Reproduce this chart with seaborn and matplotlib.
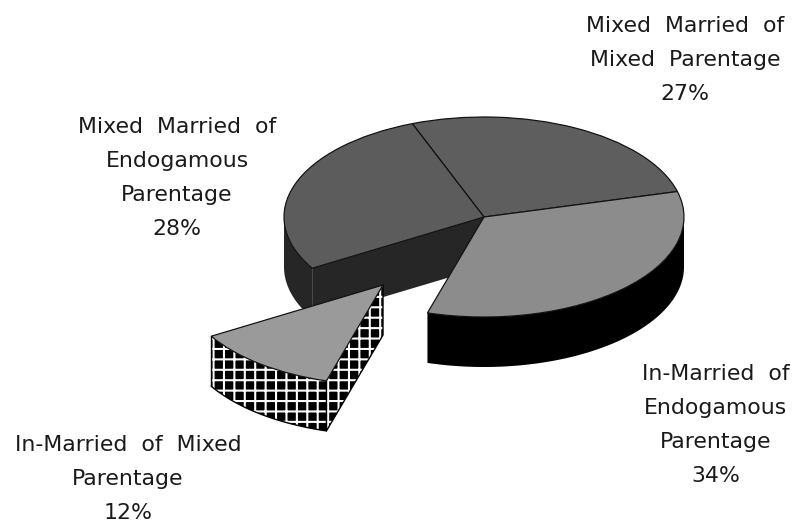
"""
Exploded 3D style pie: marriage type by parentage
"""

import numpy as np
import seaborn as sns
import matplotlib.pyplot as plt

# chart values, clockwise from the back of the pie
categories = [
    'Mixed  Married  of\nMixed  Parentage',
    'In-Married  of\nEndogamous\nParentage',
    'In-Married  of  Mixed\nParentage',
    'Mixed  Married  of\nEndogamous\nParentage',
]
shares = [27, 34, 12, 28]
labels = [f'{name}\n{share}%' for name, share in zip(categories, shares)]

# label centres in pixels
label_px = [(685, 60), (716, 425), (128, 479), (177, 178)]

top_colors = sns.color_palette(['#5e5e5e', '#8c8c8c', '#9a9a9a', '#5c5c5c'])

# picture geometry in pixels
WIDTH, HEIGHT, DPI = 799, 525, 125
CX, CY, RX, RY = 484, 217, 200, 100
DEPTH = 0.5
START = 111
EXPLODED_APEX = (383, 285)


def to_data(px, py):
    return (px - CX) / RX, (CY - py) / RY


def rim(angle_from, angle_to, center=(0, 0)):
    """Rim points between two clockwise angles measured from the top"""
    t = np.radians(np.linspace(angle_from, angle_to, 80))
    return center[0] + np.sin(t), center[1] + np.cos(t)


def side_wall(ax, xs, ys, **kwargs):
    """Fill the wall hanging below a top edge"""
    xs = np.asarray(xs)
    ys = np.asarray(ys)
    px = np.concatenate([xs, xs[::-1]])
    py = np.concatenate([ys, ys[::-1] - DEPTH])
    ax.fill(px, py, linewidth=0, **kwargs)


sns.set_theme(style='white')
plt.rcParams['font.family'] = ['DejaVu Sans']
plt.rcParams['hatch.linewidth'] = 1.2
plt.rcParams['hatch.color'] = 'white'

fig = plt.figure(figsize=(WIDTH / DPI, HEIGHT / DPI), dpi=DPI)
ax = fig.add_axes([0, 0, 1, 1])

wedges, _ = ax.pie(shares, colors=top_colors, startangle=START, counterclock=False,
                   wedgeprops={'edgecolor': '#111111', 'linewidth': 0.7})
ax.set_aspect('auto')
ax.set_xlim(to_data(0, 0)[0], to_data(WIDTH, 0)[0])
ax.set_ylim(to_data(0, HEIGHT)[1], to_data(0, 0)[1])

# clockwise slice boundaries, same scale as the pie
edges = (90 - START) + np.cumsum([0] + shares) * 360 / sum(shares)

for wedge in wedges:
    wedge.set_zorder(3)

# walls of the slices that stay in place
xs, ys = rim(max(edges[1], 90), edges[2])
side_wall(ax, xs, ys, facecolor='#000000', zorder=2)

xs, ys = rim(edges[3], 270)
side_wall(ax, xs, ys, facecolor='#262626', zorder=1)

cut_x, cut_y = rim(edges[3], edges[3])
side_wall(ax, [0, cut_x[0]], [0, cut_y[0]], facecolor='#262626', zorder=1)

# pulled out slice
apex = to_data(*EXPLODED_APEX)
wedges[2].set_center(apex)
wedges[2].set_zorder(6)

xs, ys = rim(edges[2], edges[3], apex)
side_wall(ax, xs, ys, facecolor='black', hatch='++', zorder=5)
ax.plot(xs, ys - DEPTH, color='black', lw=0.8, zorder=5)
ax.plot([xs[-1], xs[-1]], [ys[-1], ys[-1] - DEPTH], color='black', lw=0.8, zorder=5)

near_x, near_y = xs[0], ys[0]
side_wall(ax, [apex[0], near_x], [apex[1], near_y], facecolor='black', hatch='++', zorder=4)
ax.plot([apex[0], apex[0], near_x, near_x], [apex[1], apex[1] - DEPTH, near_y - DEPTH, near_y],
        color='black', lw=0.8, zorder=5)

for text, (px, py) in zip(labels, label_px):
    x, y = to_data(px, py)
    ax.text(x, y, text, ha='center', va='center', fontsize=12.7, linespacing=1.88,
            color='#1a1a1a', zorder=7)

fig.savefig('out.png', dpi=DPI)
plt.close(fig)
